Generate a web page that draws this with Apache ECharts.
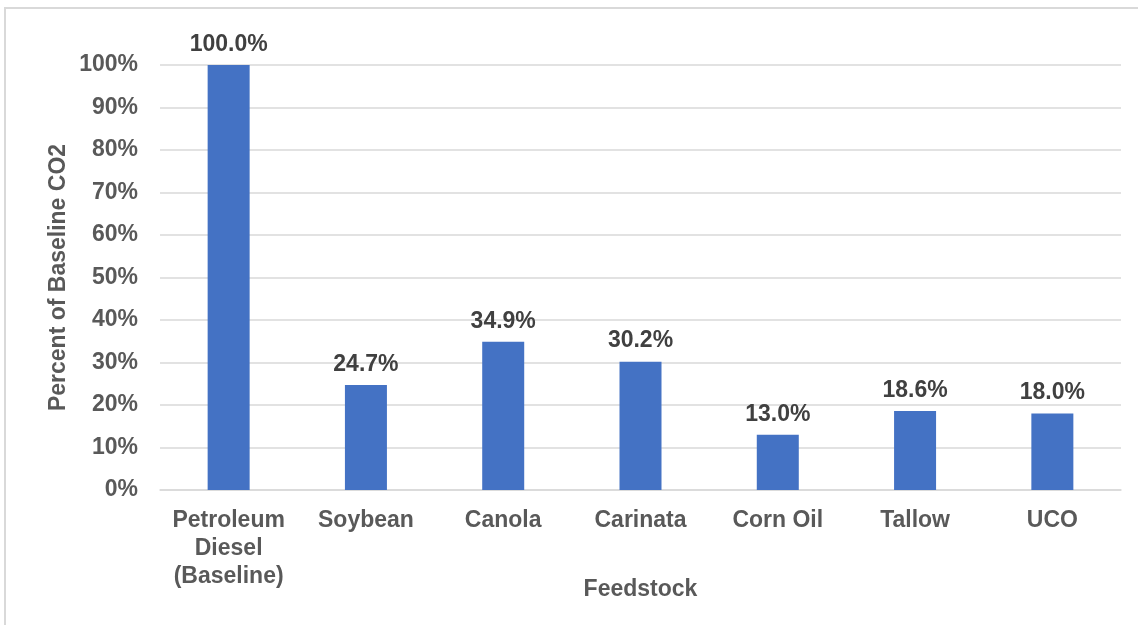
<!DOCTYPE html>
<html>
<head>
<meta charset="utf-8">
<script src="https://cdn.jsdelivr.net/npm/echarts@6/dist/echarts.min.js"></script>
<style>
  html, body { margin: 0; padding: 0; background: #fff; }
  #chart { width: 1138px; height: 625px; }
</style>
</head>
<body>
<div id="chart"></div>
<script>
// Feedstocks and their CO2 emissions as a share of the petroleum diesel baseline
const categories = ['Petroleum\nDiesel\n(Baseline)', 'Soybean', 'Canola', 'Carinata', 'Corn Oil', 'Tallow', 'UCO'];
const percentOfBaseline = [100.0, 24.7, 34.9, 30.2, 13.0, 18.6, 18.0];
const yTickStep = 10;

const chart = echarts.init(document.getElementById('chart'), null, { renderer: 'canvas' });
const fontFamily = '"Liberation Sans", Arial, sans-serif';

chart.setOption({
  backgroundColor: '#ffffff',
  animation: false,
  graphic: [{
    type: 'rect',
    shape: { x: 5, y: 8, width: 1300, height: 800 },
    style: { fill: 'none', stroke: '#d9d9d9', lineWidth: 2 },
    silent: true
  }],
  grid: { left: 160, right: 17, top: 65, bottom: 135, containLabel: false },
  xAxis: {
    type: 'category',
    data: categories,
    name: 'Feedstock',
    nameLocation: 'middle',
    nameGap: 88,
    nameMoveOverlap: false,
    nameTextStyle: { fontFamily, fontWeight: 'bold', fontSize: 23, color: '#595959' },
    axisLine: { show: true, lineStyle: { color: '#d9d9d9', width: 1.5 } },
    axisTick: { show: false },
    axisLabel: {
      fontFamily, fontWeight: 'bold', fontSize: 23, color: '#595959',
      lineHeight: 28, margin: 17, interval: 0
    }
  },
  yAxis: {
    type: 'value',
    min: 0,
    max: 100,
    interval: yTickStep,
    name: 'Percent of Baseline CO2',
    nameLocation: 'middle',
    nameGap: 90,
    nameMoveOverlap: false,
    nameTextStyle: { fontFamily, fontWeight: 'bold', fontSize: 23, color: '#595959' },
    axisLine: { show: false },
    axisTick: { show: false },
    axisLabel: {
      fontFamily, fontWeight: 'bold', fontSize: 23, color: '#595959',
      margin: 22, formatter: '{value}%'
    },
    splitLine: { lineStyle: { color: '#d9d9d9', width: 1.5 } }
  },
  series: [{
    type: 'bar',
    data: percentOfBaseline,
    barWidth: 42,
    itemStyle: { color: '#4472C4' },
    label: {
      show: true,
      position: 'top',
      distance: 9,
      fontFamily, fontWeight: 'bold', fontSize: 23, color: '#404040',
      formatter: p => p.value.toFixed(1) + '%'
    }
  }]
});
</script>
</body>
</html>
